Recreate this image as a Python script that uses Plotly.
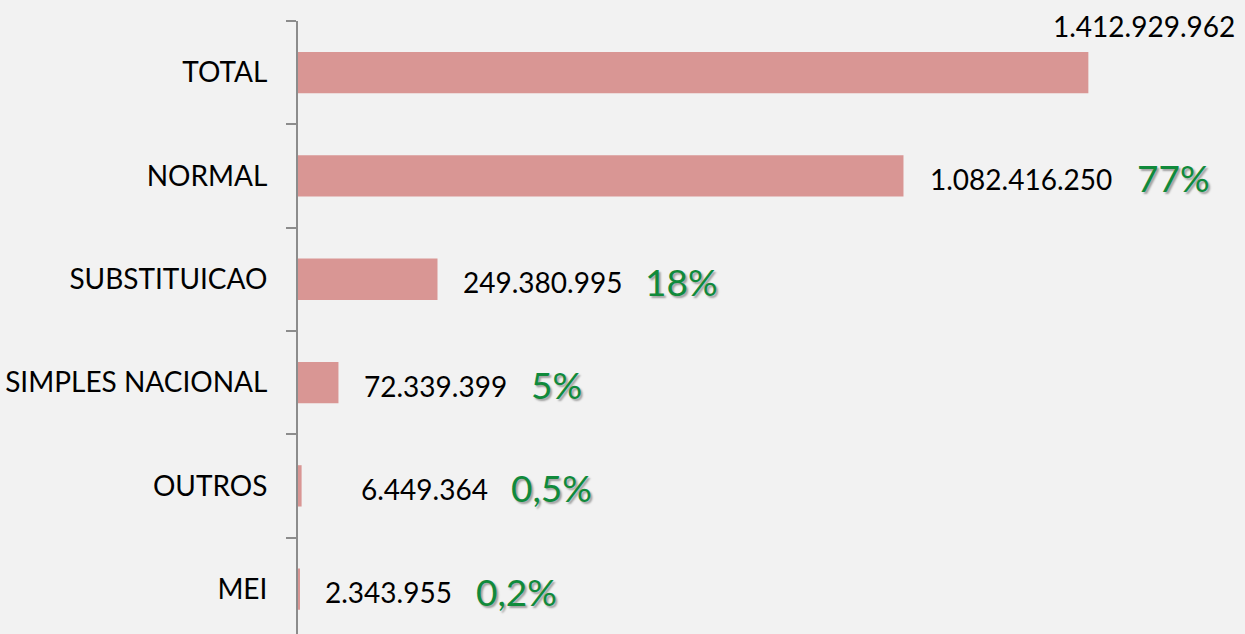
import plotly.graph_objects as go

categories = ["TOTAL", "NORMAL", "SUBSTITUICAO", "SIMPLES NACIONAL", "OUTROS", "MEI"]
values = [1412929962, 1082416250, 249380995, 72339399, 6449364, 2343955]
value_labels = ["1.412.929.962", "1.082.416.250", "249.380.995", "72.339.399", "6.449.364", "2.343.955"]
pct_labels = ["", "77%", "18%", "5%", "0,5%", "0,2%"]

# pixel gap between bar end and its number label (Excel labels were nudged by hand)
label_gap = [0, 25, 23, 24, 57, 24]

bar_color = "#d99694"
green = "#108a3b"
bg = "#f2f2f2"
font = "Lato"

fig = go.Figure()
fig.add_trace(go.Bar(
    x=values[::-1], y=categories[::-1], orientation="h",
    marker=dict(color=bar_color, line=dict(width=0)),
    hoverinfo="skip",
))


def text_width(s, size):
    w = 0
    for ch in s:
        w += 0.26 if ch in ".," else 0.58
    return w * size


annotations = []
for i, cat in enumerate(categories):
    if i == 0:
        annotations.append(dict(
            x=values[i], y=cat, text=value_labels[i], showarrow=False,
            xanchor="right", yanchor="middle", xshift=149, yshift=47,
            font=dict(family=font, size=28, color="black"),
        ))
        continue
    annotations.append(dict(
        x=values[i], y=cat, text=value_labels[i], showarrow=False,
        xanchor="left", yanchor="middle", xshift=label_gap[i], yshift=-3,
        font=dict(family=font, size=28, color="black"),
    ))
    annotations.append(dict(
        x=values[i], y=cat, text=pct_labels[i], showarrow=False,
        xanchor="left", yanchor="middle",
        xshift=label_gap[i] + text_width(value_labels[i], 28) + 22, yshift=-2,
        font=dict(family=font, size=37, color=green,
                  shadow="2px 2px 2px rgba(0,0,0,0.35)"),
    ))

fig.update_layout(
    width=1245, height=634,
    margin=dict(l=298, r=52, t=21, b=0),
    paper_bgcolor=bg, plot_bgcolor=bg,
    showlegend=False, bargap=0.6,
    annotations=annotations,
    xaxis=dict(range=[0, 1.6e9], showgrid=False, zeroline=False,
               showline=False, showticklabels=False, fixedrange=True),
    yaxis=dict(range=[-0.434, 5.5], showgrid=False, zeroline=False,
               showline=True, linecolor="#8c8c8c", linewidth=2,
               ticks="outside", ticklen=10, tickwidth=2, tickcolor="#8c8c8c",
               tickson="boundaries", ticklabelstandoff=23,
               tickfont=dict(family=font, size=28, color="black"),
               fixedrange=True),
)

# drop the default page margin so the chart fills the window
fig.write_html("out.html", config={"displayModeBar": False},
               post_script="document.body.style.margin='0';"
               "document.body.style.background='#f2f2f2';"
               "document.body.style.overflow='hidden';")
